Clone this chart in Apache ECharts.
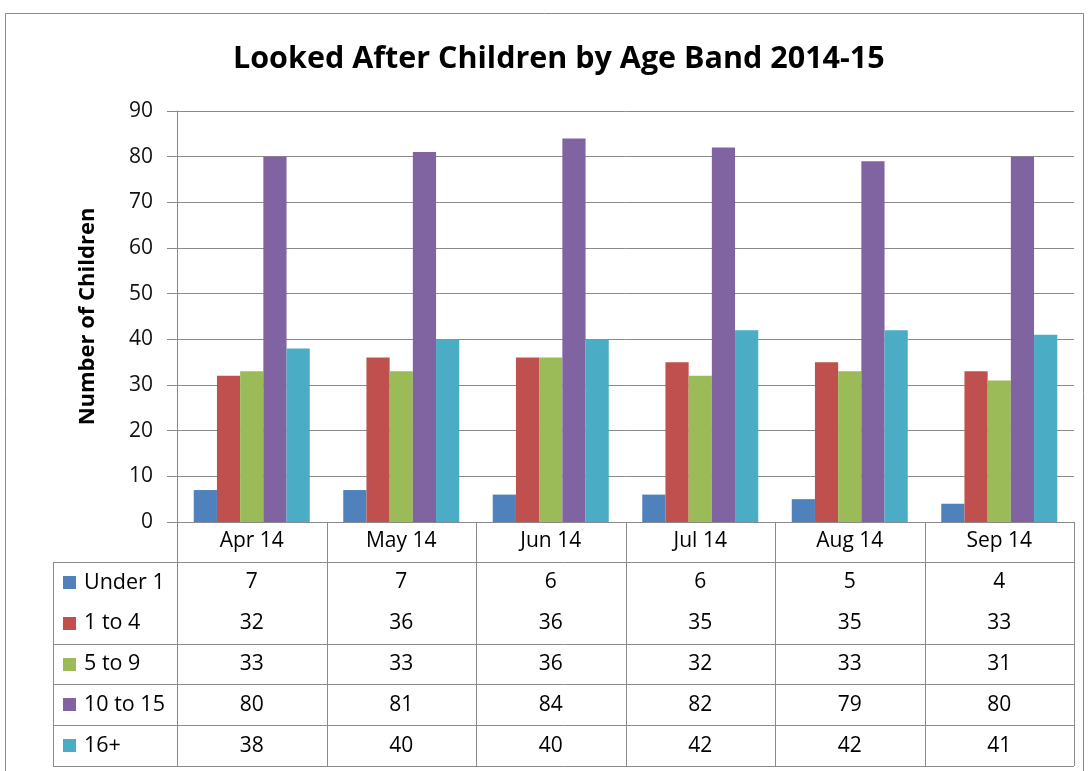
<!DOCTYPE html>
<html>
<head>
<meta charset="utf-8">
<title>Looked After Children by Age Band 2014-15</title>
<script src="https://cdn.jsdelivr.net/npm/echarts@6/dist/echarts.min.js"></script>
<style>
  html, body { margin: 0; padding: 0; background: #fff; }
  #main { width: 1088px; height: 771px; }
</style>
</head>
<body>
<div id="main"></div>
<script>
// chart data
const months = ['Apr 14', 'May 14', 'Jun 14', 'Jul 14', 'Aug 14', 'Sep 14'];
const bandNames = ['Under 1', '1 to 4', '5 to 9', '10 to 15', '16+'];
const under1 = [7, 7, 6, 6, 5, 4];
const age1to4 = [32, 36, 36, 35, 35, 33];
const age5to9 = [33, 33, 36, 32, 33, 31];
const age10to15 = [80, 81, 84, 82, 79, 80];
const age16plus = [38, 40, 40, 42, 42, 41];
const yTicks = [0, 10, 20, 30, 40, 50, 60, 70, 80, 90];

const bandValues = [under1, age1to4, age5to9, age10to15, age16plus];
const colors = ['#4F81BD', '#C0504D', '#9BBB59', '#8064A2', '#4BACC6'];
const font = '"Open Sans", Lato, sans-serif';
const lineColor = '#8a8a8a';

const chart = echarts.init(document.getElementById('main'), null, { renderer: 'canvas' });

const option = {
  animation: false,
  backgroundColor: '#fff',
  title: {
    text: 'Looked After Children by Age Band 2014-15',
    left: 228,
    top: 39,
    textStyle: { fontFamily: font, fontSize: 30.5, fontWeight: 'bold', color: '#000' }
  },
  grid: {
    left: 177,
    right: 14,
    top: 111,
    bottom: 249,
    containLabel: false
  },
  xAxis: {
    type: 'category',
    data: months,
    axisLine: { show: true, lineStyle: { color: lineColor, width: 1 } },
    axisTick: { show: false },
    axisLabel: { margin: 9, fontFamily: font, fontSize: 21, color: '#000' }
  },
  yAxis: {
    type: 'value',
    min: yTicks[0],
    max: yTicks[yTicks.length - 1],
    interval: 10,
    name: 'Number of Children',
    nameLocation: 'middle',
    nameRotate: 90,
    nameGap: 78,
    nameTextStyle: { fontFamily: font, fontSize: 22, fontWeight: 'bold', color: '#000' },
    axisLine: { show: true, lineStyle: { color: lineColor, width: 1 } },
    axisTick: { show: true, length: 10, lineStyle: { color: lineColor } },
    axisLabel: { margin: 24, fontFamily: font, fontSize: 21, color: '#111' },
    splitLine: { show: true, lineStyle: { color: lineColor, width: 1 } }
  },
  series: bandNames.map((name, i) => ({
    name: name,
    type: 'bar',
    data: bandValues[i],
    barGap: '0%',
    barCategoryGap: '22.4%',
    itemStyle: { color: colors[i] }
  }))
};

chart.setOption(option);

// data table under the plot, placed from the axis scale
function buildTable() {
  const c0 = chart.convertToPixel({ xAxisIndex: 0 }, 0);
  const c1 = chart.convertToPixel({ xAxisIndex: 0 }, 1);
  const band = c1 - c0;
  const xLeft = c0 - band / 2;
  const xRight = xLeft + band * months.length;
  const yTop = chart.convertToPixel({ yAxisIndex: 0 }, 0);
  const headerH = 40;
  const rowH = 40.8;
  const labelLeft = 53;
  const elements = [];
  const line = (x1, y1, x2, y2) => ({
    type: 'line',
    silent: true,
    shape: { x1: x1, y1: y1, x2: x2, y2: y2 },
    style: { stroke: lineColor, lineWidth: 1 }
  });

  const tableBottom = yTop + headerH + rowH * bandNames.length;
  // vertical lines for month columns
  for (let k = 0; k <= months.length; k++) {
    const x = Math.round(xLeft + band * k) + 0.5;
    elements.push(line(x, yTop, x, tableBottom));
  }
  elements.push(line(labelLeft + 0.5, yTop + headerH, labelLeft + 0.5, tableBottom));
  // horizontal lines (the one between first and second row is missing in the original)
  [0, 2, 3, 4, 5].forEach(r => {
    const y = Math.round(yTop + headerH + rowH * r) + 0.5;
    elements.push(line(labelLeft, y, xRight, y));
  });

  bandNames.forEach((name, r) => {
    const cy = yTop + headerH + rowH * r + rowH / 2;
    elements.push({
      type: 'rect',
      silent: true,
      shape: { x: 63, y: Math.round(cy - 6.5), width: 13, height: 13 },
      style: { fill: colors[r] }
    });
    elements.push({
      type: 'text',
      silent: true,
      x: 84,
      y: cy,
      style: {
        text: name, fontFamily: font, fontSize: 21.5, fill: '#000',
        align: 'left', verticalAlign: 'middle'
      }
    });
    bandValues[r].forEach((v, k) => {
      elements.push({
        type: 'text',
        silent: true,
        x: chart.convertToPixel({ xAxisIndex: 0 }, k),
        y: cy,
        style: {
          text: String(v), fontFamily: font, fontSize: 21, fill: '#000',
          align: 'center', verticalAlign: 'middle'
        }
      });
    });
  });

  // outer chart border
  elements.push({
    type: 'rect',
    silent: true,
    shape: { x: 5.5, y: 13.5, width: 1078, height: 800 },
    style: { fill: 'none', stroke: lineColor, lineWidth: 1 }
  });

  chart.setOption({ graphic: elements });
}

buildTable();
</script>
</body>
</html>
